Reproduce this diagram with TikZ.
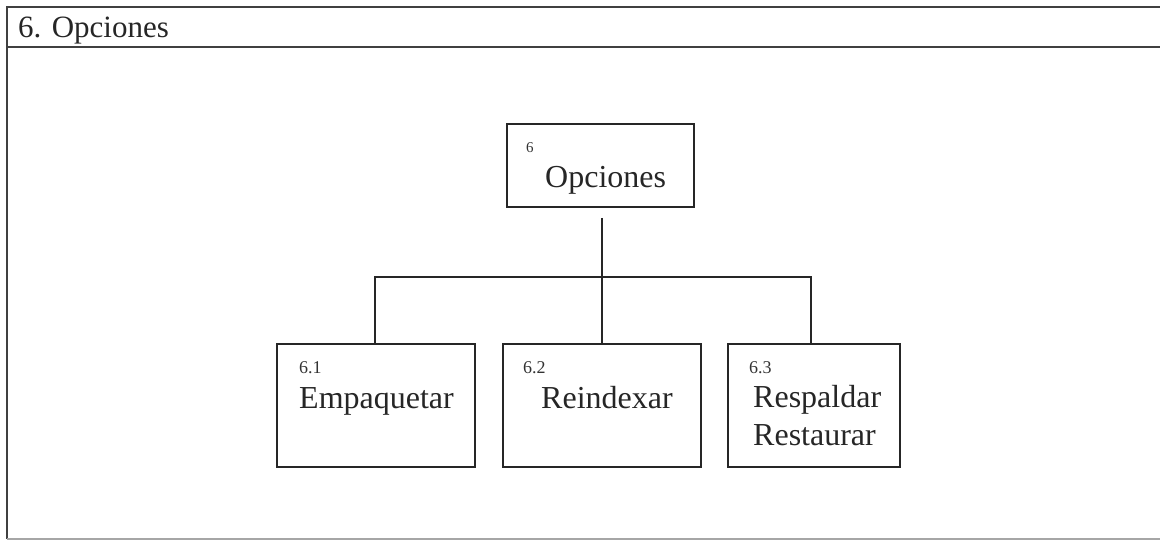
\documentclass[tikz,border=0pt]{standalone}
\usepackage{fontspec}
\setmainfont{Liberation Serif}
\begin{document}
\begin{tikzpicture}[x=1pt,y=-1pt,
  frameline/.style={draw=black!75,line width=1.6pt},
  boxline/.style={draw=black!85,line width=1.7pt},
  proc/.style={boxline,rectangle,inner sep=0pt},
  link/.style={draw=black!85,line width=1.6pt},
  bigtxt/.style={inner sep=0pt,anchor=base west,font=\fontsize{32}{36}\selectfont,text=black!85},
  numtxt/.style={inner sep=0pt,anchor=base west,font=\fontsize{18}{20}\selectfont,text=black!80},
  titletxt/.style={inner sep=0pt,anchor=base west,font=\fontsize{31}{34}\selectfont,text=black!85}]
\useasboundingbox (0,0) rectangle (1160,541);

% outer frame and title band
\draw[frameline] (1160,7) -- (7,7) -- (7,539);
\draw[frameline] (7,47) -- (1160,47);
\draw[draw=black!35,line width=1.2pt] (7,539) -- (1160,539);
\node[titletxt] (title) at (18,37) {6. Opciones};

% boxes
\node[proc,minimum width=187pt,minimum height=83pt] (top) at (600.5,165.5) {};
\node[proc,minimum width=198pt,minimum height=123pt] (b1) at (376,405.5) {};
\node[proc,minimum width=198pt,minimum height=123pt] (b2) at (602,405.5) {};
\node[proc,minimum width=172pt,minimum height=123pt] (b3) at (814,405.5) {};

% box texts
\node[inner sep=0pt,anchor=base west,font=\fontsize{15}{17}\selectfont,text=black!80] (n6) at (526,152) {6};
\node[bigtxt] (t6) at (545,187) {Opciones};
\node[numtxt] (n61) at (299,373) {6.1};
\node[bigtxt] (t61) at (299,408) {Empaquetar};
\node[numtxt] (n62) at (523,373) {6.2};
\node[bigtxt] (t62) at (541,408) {Reindexar};
\node[numtxt] (n63) at (749,373) {6.3};
\node[bigtxt] (t63a) at (753,407) {Respaldar};
\node[bigtxt] (t63b) at (753,445) {Restaurar};

% connectors
\coordinate (j) at (602,277);
\draw[link,shorten <=10pt] (top.south -| j) -- (j);
\draw[link] ([xshift=-1pt]b1.north) |- (j) -| ([xshift=-3pt]b3.north);
\draw[link] (j) -- (b2.north);
\end{tikzpicture}
\end{document}
